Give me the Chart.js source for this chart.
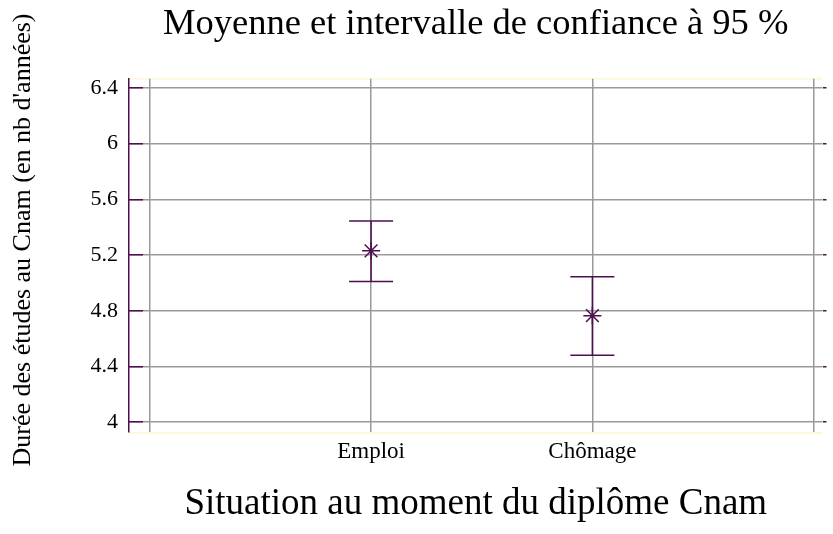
<!DOCTYPE html>
<html>
<head>
<meta charset="utf-8">
<script src="https://cdn.jsdelivr.net/npm/chart.js@4.4.1/dist/chart.umd.min.js"></script>
<style>
  html, body { margin: 0; padding: 0; background: #fff; }
  #wrap { width: 833px; height: 534px; }
</style>
</head>
<body>
<div id="wrap"><canvas id="myChart"></canvas></div>
<script>
// values
const categories = ['Emploi', 'Chômage'];
const means = [5.23, 4.765];
const lowerBounds = [5.01, 4.48];
const upperBounds = [5.445, 5.045];
const yTicks = [4, 4.4, 4.8, 5.2, 5.6, 6, 6.4];

const purple = '#4f0f4f';
const gridGray = '#9a9a9a';
const serif = "'Liberation Serif', 'Times New Roman', serif";

Chart.defaults.font.family = serif;
Chart.defaults.color = '#000';

// x positions: one slot per category, plus an empty slot at each side
const xTicks = [0, ...categories.map((c, i) => i + 1), categories.length + 1];
const points = categories.map((c, i) => ({ x: i + 1, y: means[i] }));

const errorBars = {
  id: 'errorBars',
  beforeDatasetsDraw(chart) {
    const { ctx, scales: { x, y } } = chart;
    const capHalf = 22;
    ctx.save();
    ctx.strokeStyle = purple;
    ctx.lineWidth = 1.5;
    categories.forEach((c, i) => {
      const px = x.getPixelForValue(i + 1);
      const top = y.getPixelForValue(upperBounds[i]);
      const bot = y.getPixelForValue(lowerBounds[i]);
      ctx.beginPath();
      ctx.moveTo(px, top); ctx.lineTo(px, bot);
      ctx.moveTo(px - capHalf, top); ctx.lineTo(px + capHalf, top);
      ctx.moveTo(px - capHalf, bot); ctx.lineTo(px + capHalf, bot);
      ctx.stroke();
    });
    ctx.restore();
  }
};

// faint yellowish edge above and below the plot, as in the original
const plotEdges = {
  id: 'plotEdges',
  beforeDraw(chart) {
    const { ctx, chartArea: a } = chart;
    ctx.save();
    ctx.strokeStyle = '#fcf8dc';
    ctx.lineWidth = 2;
    ctx.beginPath();
    ctx.moveTo(a.left, a.top); ctx.lineTo(a.right, a.top);
    ctx.moveTo(a.left, a.bottom + 1); ctx.lineTo(a.right, a.bottom + 1);
    ctx.stroke();
    ctx.restore();
  }
};

// rotated y title, drawn by hand so it can sit off-centre like the original
const yTitle = {
  id: 'yTitle',
  afterDraw(chart) {
    const { ctx } = chart;
    ctx.save();
    ctx.translate(23, 240);
    ctx.rotate(-Math.PI / 2);
    ctx.font = '26px ' + serif;
    ctx.fillStyle = '#000';
    ctx.textAlign = 'center';
    ctx.textBaseline = 'middle';
    ctx.fillText("Durée des études au Cnam (en nb d'années)", 0, 0);
    ctx.restore();
  }
};

const ctx = document.getElementById('myChart').getContext('2d');
new Chart(ctx, {
  type: 'scatter',
  data: {
    datasets: [{
      label: 'Moyenne',
      data: points,
      pointStyle: 'star',
      pointRadius: 9,
      borderColor: purple,
      backgroundColor: purple,
      borderWidth: 1.5
    }]
  },
  options: {
    responsive: true,
    maintainAspectRatio: false,
    animation: false,
    layout: { padding: 0 },
    plugins: {
      legend: { display: false },
      tooltip: { enabled: false },
      title: {
        display: true,
        fullSize: false,
        text: 'Moyenne et intervalle de confiance à 95 %',
        font: { size: 36.5, weight: 'normal' },
        color: '#000',
        padding: { top: 3, bottom: 32 }
      }
    },
    scales: {
      x: {
        type: 'linear',
        min: -0.094,
        max: 3.04,
        afterBuildTicks: s => { s.ticks = xTicks.map(v => ({ value: v })); },
        afterFit: s => { s.height = 102; },
        border: { display: false },
        grid: { color: gridGray, lineWidth: 1.5, drawTicks: false },
        ticks: {
          padding: 6,
          font: { size: 23 },
          color: '#000',
          callback: v => categories[v - 1] || ''
        },
        title: {
          display: true,
          text: 'Situation au moment du diplôme Cnam',
          font: { size: 37 },
          color: '#000',
          padding: { top: 0, bottom: 8 }
        }
      },
      y: {
        min: 3.93,
        max: 6.465,
        afterBuildTicks: s => { s.ticks = yTicks.map(v => ({ value: v })); },
        afterFit: s => { s.width = 129; },
        border: { color: purple, width: 1.5 },
        grid: { color: gridGray, lineWidth: 1.5, tickColor: purple, tickLength: -14 },
        ticks: {
          padding: 25,
          font: { size: 22 },
          color: '#000',
          callback: v => String(v)
        }
      },
      yRight: {
        position: 'right',
        min: 3.93,
        max: 6.465,
        afterBuildTicks: s => { s.ticks = yTicks.map(v => ({ value: v })); },
        afterFit: s => { s.width = 4; },
        border: { display: false },
        grid: { drawOnChartArea: false, tickColor: purple, tickLength: 4, lineWidth: 1.5 },
        ticks: { display: false }
      }
    }
  },
  plugins: [plotEdges, errorBars, yTitle]
});
</script>
</body>
</html>
